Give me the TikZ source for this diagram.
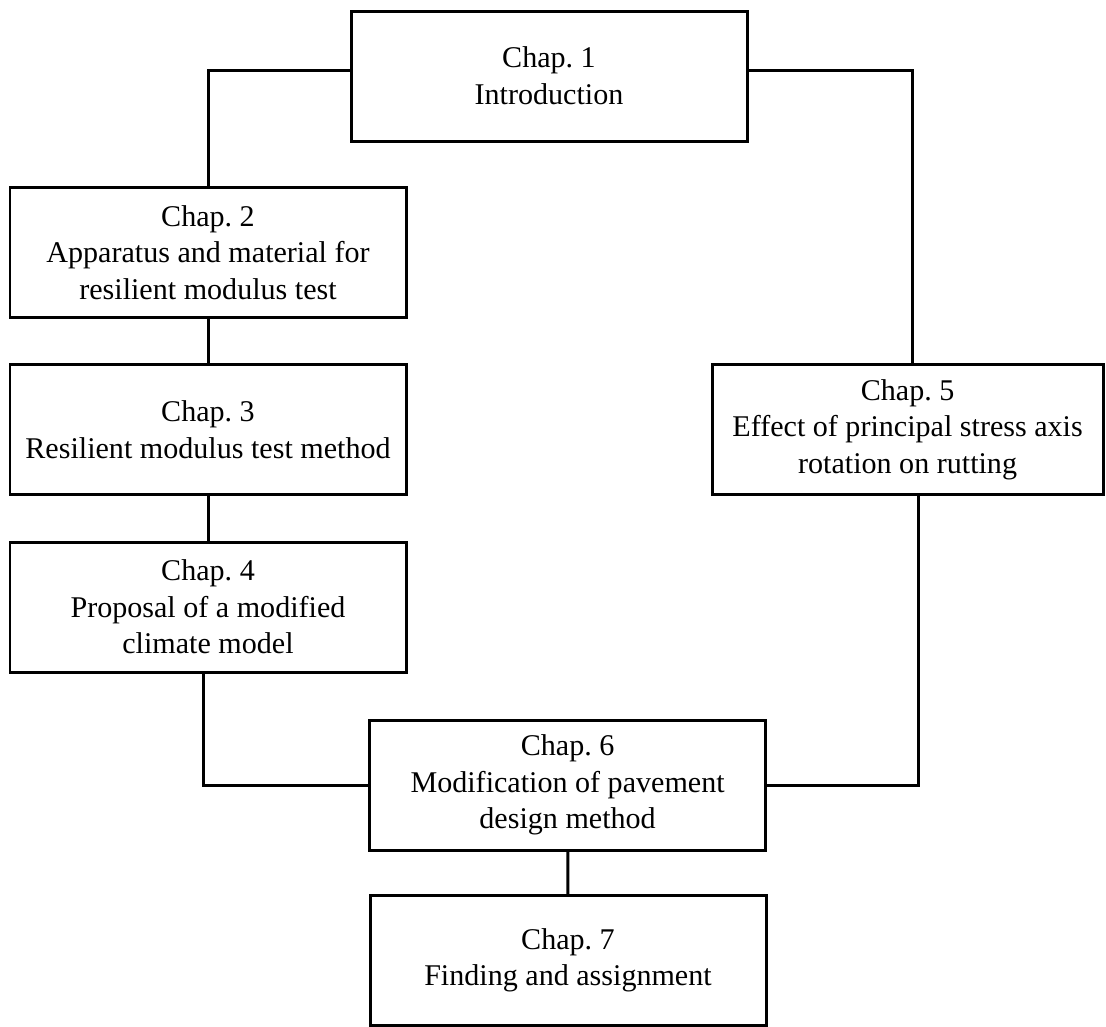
\documentclass[tikz,border=0pt]{standalone}
\usepackage{fontspec}
\setmainfont{Liberation Serif}
\frenchspacing
\tikzset{
  chapbox/.style={draw, line width=0.075cm, minimum width=9.9cm, minimum height=3.25cm,
    align=center, inner sep=0pt, font=\fontsize{21.4}{26.1}\selectfont},
  link/.style={line width=0.075cm}
}
\begin{document}
\begin{tikzpicture}
    \useasboundingbox (0,0) rectangle (27.65,-25.65);

    % chapters
    \node[chapbox] (chap1) at (13.725,-1.9) {Chap. 1\\Introduction};
    \node[chapbox] (chap2) at (5.2,-6.31) {Chap. 2\\Apparatus and material for\\resilient modulus test};
    \node[chapbox] (chap3) at (5.2,-10.74) {Chap. 3\\Resilient modulus test method};
    \node[chapbox] (chap4) at (5.2,-15.175) {Chap. 4\\Proposal of a modified\\climate model};
    \node[chapbox, minimum width=9.775cm] (chap5) at (22.69,-10.74) {Chap. 5\\Effect of principal stress axis\\rotation on rutting};
    \node[chapbox] (chap6) at (14.19,-19.625) {Chap. 6\\Modification of pavement\\design method};
    \node[chapbox] (chap7) at (14.2,-24.01) {Chap. 7\\Finding and assignment};

    % links
    \draw[link] ([yshift=0.15cm]chap1.west) -| (chap2.north);
    \draw[link] ([yshift=0.15cm]chap1.east) -| ([xshift=0.11cm]chap5.north);
    \draw[link] (chap2) -- (chap3);
    \draw[link] (chap3) -- (chap4);
    \draw[link] ([xshift=-0.12cm]chap4.south) |- (chap6.west);
    \draw[link] ([xshift=0.26cm]chap5.south) |- (chap6.east);
    \draw[link] (chap6) -- (chap7);
\end{tikzpicture}
\end{document}
